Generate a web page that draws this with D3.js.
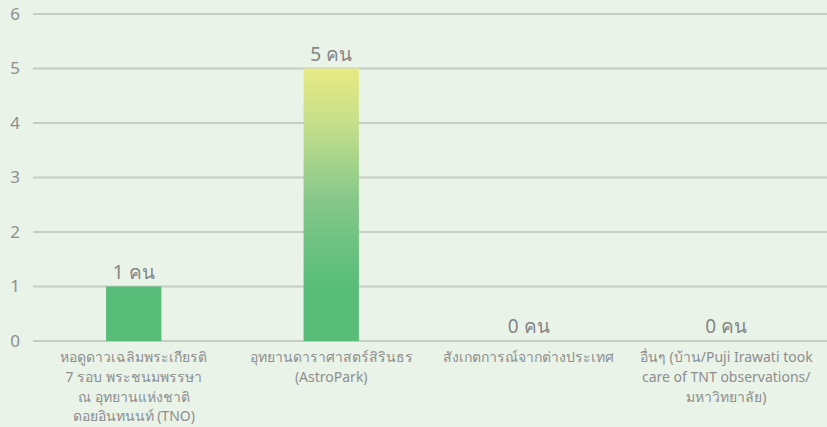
<!DOCTYPE html>
<html>
<head>
<meta charset="utf-8">
<script src="https://cdn.jsdelivr.net/npm/d3@7"></script>
<style>
  html, body { margin: 0; padding: 0; background: #e9f3e8; }
  svg { display: block; font-family: "Noto Sans", "Noto Sans CJK SC", sans-serif; }
</style>
</head>
<body>
<svg id="chart" width="827" height="427"></svg>
<script>
// Observation venues and head counts
const categories = [
  ["หอดูดาวเฉลิมพระเกียรติ", "7 รอบ พระชนมพรรษา", "ณ อุทยานแห่งชาติ", "ดอยอินทนนท์ (TNO)"],
  ["อุทยานดาราศาสตร์สิรินธร", "(AstroPark)"],
  ["สังเกตการณ์จากต่างประเทศ"],
  ["อื่นๆ (บ้าน/Puji Irawati took", "care of TNT observations/", "มหาวิทยาลัย)"]
];
const values = [1, 5, 0, 0];
const unit = "คน";
const yTicks = [0, 1, 2, 3, 4, 5, 6];

const svg = d3.select("#chart");
const W = 827, H = 427;
const margin = { left: 33, right: 0, top: 14, bottom: 86 };

const x = d3.scaleBand()
  .domain(d3.range(values.length))
  .range([margin.left, W - margin.right])
  .paddingInner(0.72)
  .paddingOuter(0.37);

const y = d3.scaleLinear()
  .domain([0, 6])
  .range([H - margin.bottom, margin.top]);

// Vertical colour ramp tied to the value scale
const defs = svg.append("defs");
const grad = defs.append("linearGradient")
  .attr("id", "barGrad")
  .attr("gradientUnits", "userSpaceOnUse")
  .attr("x1", 0).attr("x2", 0)
  .attr("y1", y(1)).attr("y2", y(5));
grad.append("stop").attr("offset", "0%").attr("stop-color", "#57bd78");
grad.append("stop").attr("offset", "40%").attr("stop-color", "#86c88a");
grad.append("stop").attr("offset", "70%").attr("stop-color", "#bddc8a");
grad.append("stop").attr("offset", "100%").attr("stop-color", "#e8ea84");

// Grid lines
svg.append("g")
  .selectAll("line")
  .data(yTicks)
  .join("line")
  .attr("x1", margin.left).attr("x2", W)
  .attr("y1", d => y(d)).attr("y2", d => y(d))
  .attr("stroke", "#c6cbc3")
  .attr("stroke-width", 2);

// Y tick labels
svg.append("g")
  .selectAll("text")
  .data(yTicks)
  .join("text")
  .attr("x", 15)
  .attr("y", d => y(d))
  .attr("dy", "0.35em")
  .attr("text-anchor", "middle")
  .attr("fill", "#8e8e8e")
  .attr("font-size", 17)
  .text(d => d);

// Bars
svg.append("g")
  .selectAll("rect")
  .data(values)
  .join("rect")
  .attr("x", (d, i) => x(i))
  .attr("width", x.bandwidth())
  .attr("y", d => y(d))
  .attr("height", d => y(0) - y(d))
  .attr("fill", "url(#barGrad)");

// Value labels
svg.append("g")
  .selectAll("text")
  .data(values)
  .join("text")
  .attr("x", (d, i) => x(i) + x.bandwidth() / 2)
  .attr("y", d => y(d) - 8)
  .attr("text-anchor", "middle")
  .attr("fill", "#858585")
  .attr("font-size", 19)
  .text(d => `${d} ${unit}`);

// Category labels
const cat = svg.append("g")
  .selectAll("text")
  .data(categories)
  .join("text")
  .attr("x", (d, i) => x(i) + x.bandwidth() / 2)
  .attr("y", 362)
  .attr("text-anchor", "middle")
  .attr("fill", "#8e8e8e")
  .attr("font-size", 14);
cat.selectAll("tspan")
  .data(d => d)
  .join("tspan")
  .attr("x", function () { return d3.select(this.parentNode).attr("x"); })
  .attr("dy", (d, i) => i === 0 ? 0 : 19.8)
  .text(d => d);
</script>
</body>
</html>
